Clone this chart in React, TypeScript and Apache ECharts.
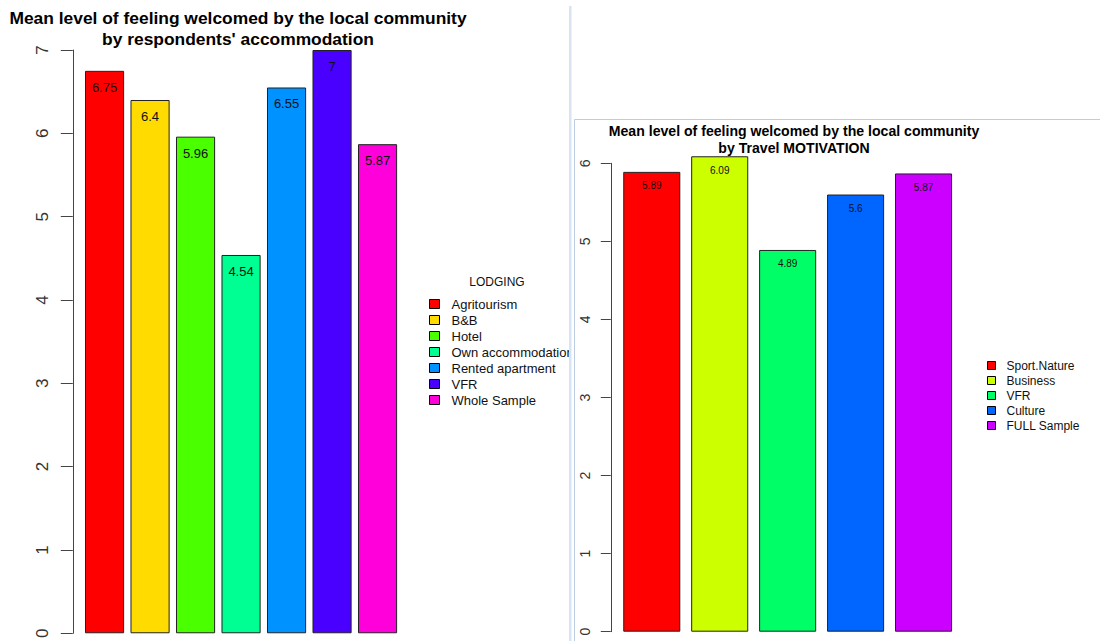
import React, { useEffect, useRef } from "react";
import * as echarts from "echarts";

// Mean welcome score by type of accommodation
const lodgingCategories = ["Agritourism", "B&B", "Hotel", "Own accommodation", "Rented apartment", "VFR", "Whole Sample"];
const lodgingMeans = [6.75, 6.4, 5.96, 4.54, 6.55, 7, 5.87];
const lodgingColors = ["#FF0000", "#FFDB00", "#49FF00", "#00FF92", "#0092FF", "#4900FF", "#FF00DB"];

// Mean welcome score by travel motivation
const motivationCategories = ["Sport.Nature", "Business", "VFR", "Culture", "FULL Sample"];
const motivationMeans = [5.89, 6.09, 4.89, 5.6, 5.87];
const motivationColors = ["#FF0000", "#CCFF00", "#00FF66", "#0066FF", "#CC00FF"];

const FONT = "'Liberation Sans', Arial, sans-serif";

// One series per category so every bar gets its own legend entry.
function buildSeries(
  categories: string[],
  values: number[],
  colors: string[],
  fontSize: number,
  distance: number,
  gap: string
) {
  return categories.map((name, i) => ({
    name,
    type: "bar",
    stack: "all",
    clip: false,
    barCategoryGap: gap,
    data: categories.map((_, j) => (j === i ? values[i] : "-")),
    itemStyle: { color: colors[i], borderColor: "#222", borderWidth: 1 },
    label: {
      show: true,
      position: "insideTop",
      distance,
      color: "#111",
      fontFamily: FONT,
      fontSize,
      formatter: "{c}",
    },
  }));
}

const lodgingOption = {
  animation: false,
  graphic: [
    {
      type: "text",
      x: 238,
      y: 7,
      style: {
        text: "Mean level of feeling welcomed by the local community\nby respondents' accommodation",
        textAlign: "center",
        fontFamily: FONT,
        fontWeight: "bold",
        fontSize: 17.4,
        lineHeight: 21,
        fill: "#000",
      },
    },
    {
      type: "text",
      x: 497,
      y: 276,
      style: { text: "LODGING", textAlign: "center", fontFamily: FONT, fontSize: 12, fill: "#111" },
    },
  ],
  grid: { left: 81.8, right: 168.7, top: 50, bottom: 6 },
  xAxis: { type: "category", data: lodgingCategories, show: false },
  yAxis: {
    type: "value",
    min: 0,
    max: 7,
    interval: 1,
    offset: 9,
    axisLine: { show: true, lineStyle: { color: "#444", width: 1 } },
    axisTick: { show: true, length: 12, lineStyle: { color: "#444" } },
    splitLine: { show: false },
    axisLabel: { rotate: 90, fontSize: 17, margin: 22, color: "#333", fontFamily: FONT },
  },
  legend: {
    orient: "vertical",
    left: 429,
    top: 296,
    padding: 0,
    itemGap: 0,
    itemWidth: 10,
    itemHeight: 9,
    icon: "rect",
    itemStyle: { borderColor: "#000", borderWidth: 1 },
    textStyle: { fontFamily: FONT, fontSize: 13, color: "#111", lineHeight: 16, padding: [0, 0, 0, 7] },
    data: lodgingCategories,
  },
  series: buildSeries(lodgingCategories, lodgingMeans, lodgingColors, 13, 10, "14%"),
};

const motivationOption = {
  animation: false,
  graphic: [
    // window divider and panel frame
    { type: "rect", shape: { x: 0, y: 6, width: 2.5, height: 635 }, style: { fill: "#d8e4f2" } },
    { type: "line", shape: { x1: 5.5, y1: 119.5, x2: 531, y2: 119.5 }, style: { stroke: "#bccde3", lineWidth: 1 } },
    { type: "line", shape: { x1: 5.5, y1: 119.5, x2: 5.5, y2: 641 }, style: { stroke: "#bccde3", lineWidth: 1 } },
    {
      type: "text",
      x: 225,
      y: 123,
      style: {
        text: "Mean level of feeling welcomed by the local community\nby Travel MOTIVATION",
        textAlign: "center",
        fontFamily: FONT,
        fontWeight: "bold",
        fontSize: 14.1,
        lineHeight: 16.5,
        fill: "#000",
      },
    },
  ],
  grid: { left: 48.8, right: 142.5, top: 163.3, bottom: 9.3 },
  xAxis: { type: "category", data: motivationCategories, show: false },
  yAxis: {
    type: "value",
    min: 0,
    max: 6,
    interval: 1,
    offset: 7,
    axisLine: { show: true, lineStyle: { color: "#444", width: 1 } },
    axisTick: { show: true, length: 10, lineStyle: { color: "#444" } },
    splitLine: { show: false },
    axisLabel: { rotate: 90, fontSize: 14, margin: 19, color: "#333", fontFamily: FONT },
  },
  legend: {
    orient: "vertical",
    left: 418,
    top: 358,
    padding: 0,
    itemGap: 0,
    itemWidth: 8,
    itemHeight: 8,
    icon: "rect",
    itemStyle: { borderColor: "#000", borderWidth: 1 },
    textStyle: { fontFamily: FONT, fontSize: 12, color: "#111", lineHeight: 15, padding: [0, 0, 0, 6] },
    data: motivationCategories,
  },
  series: buildSeries(motivationCategories, motivationMeans, motivationColors, 10, 9, "16%"),
};

function ChartPanel({ option, style }: { option: any; style: React.CSSProperties }) {
  const ref = useRef<HTMLDivElement>(null);
  useEffect(() => {
    if (!ref.current) return;
    const chart = echarts.init(ref.current, undefined, { renderer: "svg" });
    chart.setOption(option);
    return () => chart.dispose();
  }, [option]);
  return <div ref={ref} style={{ position: "absolute", overflow: "hidden", ...style }} />;
}

export default function App() {
  return (
    <div
      style={{
        position: "fixed",
        left: 0,
        top: 0,
        width: 1100,
        height: 641,
        background: "#fff",
        overflow: "hidden",
      }}
    >
      <ChartPanel option={lodgingOption} style={{ left: 0, top: 0, width: 569, height: 641 }} />
      <ChartPanel option={motivationOption} style={{ left: 569, top: 0, width: 531, height: 641 }} />
    </div>
  );
}
